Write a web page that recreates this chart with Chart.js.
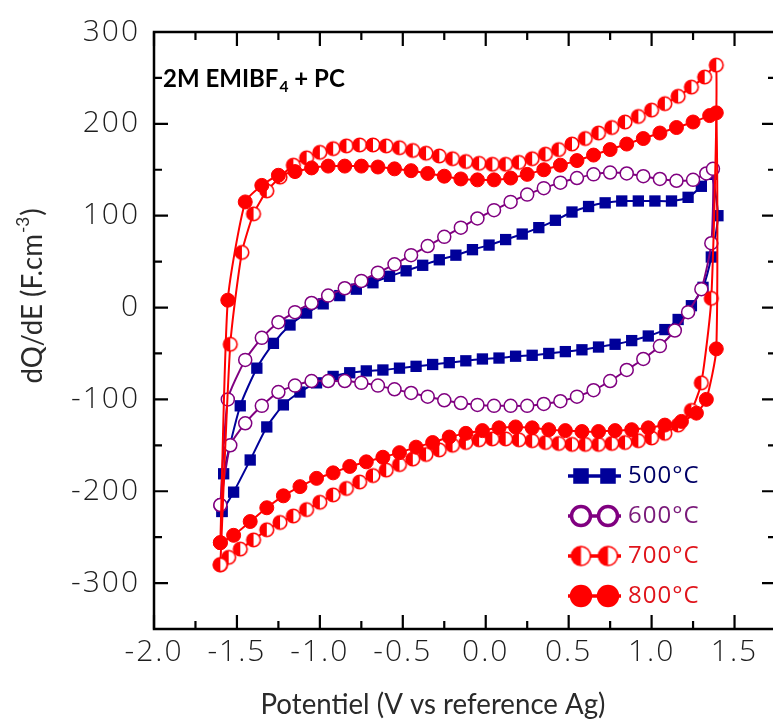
<!DOCTYPE html>
<html><head><meta charset="utf-8">
<script src="https://cdn.jsdelivr.net/npm/chart.js@4/dist/chart.umd.min.js"></script>
<style>html,body{margin:0;padding:0;overflow:hidden;background:#fff}canvas{display:block}</style>
</head><body>
<canvas id="c" width="790" height="726"></canvas>
<script>
// ---------- data ----------
const seriesLabels = ['500°C', '600°C', '700°C', '800°C'];
const xTickValues = [-2.0, -1.5, -1.0, -0.5, 0.0, 0.5, 1.0, 1.5];
const yTickValues = [-300, -200, -100, 0, 100, 200, 300];
const annotationParts = ['2M EMIBF', '4', ' + PC'];
const xTitle = 'Potentiel (V vs reference Ag)';
const yTitleParts = ['dQ/dE (F.cm', '-3', ')'];

const potential500 = [-1.59,-1.58,-1.48,-1.38,-1.28,-1.18,-1.08,-0.98,-0.88,-0.78,-0.68,-0.58,-0.48,-0.38,-0.28,-0.18,-0.08,0.02,0.12,0.22,0.32,0.42,0.52,0.62,0.72,0.82,0.92,1.02,1.12,1.22,1.30,1.36,
  1.40,1.36,1.31,1.24,1.16,1.08,0.98,0.88,0.78,0.68,0.58,0.48,0.38,0.28,0.18,0.08,-0.02,-0.12,-0.22,-0.32,-0.42,-0.52,-0.62,-0.72,-0.82,-0.92,-1.02,-1.12,-1.22,-1.32,-1.42,-1.52,-1.59];
const dqde500 = [-222,-181,-107,-66,-39,-19,-6,4,13,20,27,34,40,46,52,57,63,68,74,80,87,95,104,110,114,116,116,116,116,120,132,145,
  100,55,22,2,-13,-24,-31,-36,-40,-43,-46,-48,-50,-52,-53,-55,-56,-58,-60,-62,-64,-66,-68,-69,-71,-75,-82,-92,-106,-130,-166,-201,-222];

const potential600 = [-1.60,-1.555,-1.45,-1.35,-1.25,-1.15,-1.05,-0.95,-0.85,-0.75,-0.65,-0.55,-0.45,-0.35,-0.25,-0.15,-0.05,0.05,0.15,0.25,0.35,0.45,0.55,0.65,0.75,0.85,0.95,1.05,1.15,1.25,1.33,1.37,
  1.36,1.30,1.22,1.14,1.05,0.95,0.85,0.75,0.65,0.55,0.45,0.35,0.25,0.15,0.05,-0.05,-0.15,-0.25,-0.35,-0.45,-0.55,-0.65,-0.75,-0.85,-0.95,-1.05,-1.15,-1.25,-1.35,-1.45,-1.54,-1.60];
const dqde600 = [-215,-100,-57,-33,-16,-5,5,13,21,29,38,47,57,67,77,87,97,106,115,123,130,136,141,145,147,146,143,140,138,139,146,151,
  70,20,-5,-25,-42,-56,-68,-80,-90,-97,-102,-105,-107,-107,-107,-106,-104,-101,-97,-93,-89,-85,-82,-80,-80,-80,-85,-92,-107,-126,-150,-215];

const potential700 = [-1.60,-1.54,-1.47,-1.40,-1.32,-1.24,-1.16,-1.08,-1.00,-0.92,-0.84,-0.76,-0.68,-0.60,-0.52,-0.44,-0.36,-0.28,-0.20,-0.12,-0.04,0.04,0.12,0.20,0.28,0.36,0.44,0.52,0.60,0.68,0.76,0.84,0.92,1.00,1.08,1.16,1.24,1.32,1.39,
  1.36,1.30,1.24,1.16,1.08,1.00,0.92,0.84,0.76,0.68,0.60,0.52,0.44,0.36,0.28,0.20,0.12,0.04,-0.04,-0.12,-0.20,-0.28,-0.36,-0.44,-0.52,-0.60,-0.68,-0.76,-0.84,-0.92,-1.00,-1.08,-1.16,-1.24,-1.32,-1.40,-1.48,-1.55,-1.60];
const dqde700 = [-280,-40,60,102,127,142,155,163,169,173,176,177,177,176,174,171,168,165,162,159,157,156,156,158,162,167,172,178,184,190,196,202,208,215,222,230,240,251,264,
  10,-82,-112,-128,-137,-142,-145,-147,-148,-149,-149,-149,-148,-147,-145,-144,-143,-143,-144,-147,-150,-155,-160,-165,-171,-177,-183,-190,-197,-204,-212,-220,-227,-234,-242,-253,-263,-272,-280];

const potential800 = [-1.60,-1.555,-1.45,-1.35,-1.25,-1.15,-1.05,-0.95,-0.85,-0.75,-0.65,-0.55,-0.45,-0.35,-0.25,-0.15,-0.05,0.05,0.15,0.25,0.35,0.45,0.55,0.65,0.75,0.85,0.95,1.05,1.15,1.25,1.35,1.39,
  1.39,1.33,1.27,1.18,1.08,0.98,0.88,0.78,0.68,0.58,0.48,0.38,0.28,0.18,0.08,-0.02,-0.12,-0.22,-0.32,-0.42,-0.52,-0.62,-0.72,-0.82,-0.92,-1.02,-1.12,-1.22,-1.32,-1.42,-1.52,-1.60];
const dqde800 = [-256,8,115,133,144,148,152,154,154,154,153,151,149,146,143,140,139,139,141,145,150,155,160,166,172,178,184,190,196,202,209,212,
  -45,-100,-115,-124,-128,-131,-133,-134,-135,-135,-134,-133,-131,-130,-131,-134,-137,-141,-147,-152,-158,-163,-168,-173,-180,-186,-195,-205,-218,-233,-248,-256];

// ---------- styling ----------
const NAVY = '#000099', PURPLE = '#800080', RED = '#ff0000';
const TXT = { navy: '#000066', purple: '#7a1a7a', red: '#e0141b' };
const TICK_FONT = 'Open Sans';
const TITLE_FONT = 'Lato';

function halfCircle(r) {
  const s = Math.ceil(r * 2 + 4);
  const c = document.createElement('canvas');
  c.width = s; c.height = s;
  const g = c.getContext('2d');
  const cx = s / 2, cy = s / 2;
  g.beginPath(); g.arc(cx, cy, r, 0, 2 * Math.PI); g.fillStyle = '#fff'; g.fill();
  g.beginPath(); g.arc(cx, cy, r, Math.PI / 2, Math.PI * 1.5); g.closePath(); g.fillStyle = RED; g.fill();
  g.beginPath(); g.arc(cx, cy, r, 0, 2 * Math.PI); g.lineWidth = 1.6; g.strokeStyle = RED; g.stroke();
  return c;
}
const half7 = halfCircle(6.8);
const half10 = halfCircle(9.5);

const pts = (xs, ys) => xs.map((x, i) => ({ x, y: ys[i] }));

const datasets = [
  { label: seriesLabels[0], data: pts(potential500, dqde500), showLine: true, tension: 0.2,
    borderColor: NAVY, borderWidth: 2, pointStyle: 'rect', pointRadius: 8, pointBorderWidth: 0,
    pointBackgroundColor: NAVY, order: 4, txt: TXT.navy },
  { label: seriesLabels[1], data: pts(potential600, dqde600), showLine: true, tension: 0.2,
    borderColor: PURPLE, borderWidth: 2, pointStyle: 'circle', pointRadius: 6.5, pointBorderWidth: 1.5,
    pointBackgroundColor: '#fff', pointBorderColor: PURPLE, order: 3, txt: TXT.purple },
  { label: seriesLabels[2], data: pts(potential700, dqde700), showLine: true, tension: 0.2,
    borderColor: RED, borderWidth: 2, pointStyle: half7, pointRadius: 7,
    order: 2, txt: TXT.red, legendImg: half10 },
  { label: seriesLabels[3], data: pts(potential800, dqde800), showLine: true, tension: 0.2,
    borderColor: RED, borderWidth: 2, pointStyle: 'circle', pointRadius: 7, pointBorderWidth: 1,
    pointBackgroundColor: RED, pointBorderColor: RED, order: 1, txt: TXT.red }
];

// widen tick-label glyph spacing while the scales are painted
const spacingPlugin = {
  id: 'spacing',
  beforeDraw(chart) { if ('letterSpacing' in chart.ctx) chart.ctx.letterSpacing = '2px'; },
  beforeDatasetsDraw(chart) { if ('letterSpacing' in chart.ctx) chart.ctx.letterSpacing = '0px'; }
};

// frame + inward ticks (all four sides, major and minor)
const framePlugin = {
  id: 'frame',
  beforeDatasetsDraw(chart) {
    const { ctx, chartArea: a, scales: { x, y } } = chart;
    ctx.save();
    ctx.strokeStyle = '#000';
    ctx.lineWidth = 2.2;
    ctx.beginPath();
    const seg = (x1, y1, x2, y2) => { ctx.moveTo(x1, y1); ctx.lineTo(x2, y2); };
    for (let k = 0; ; k++) {
      const v = x.min + k * 0.25;
      if (v > x.max + 1e-9) break;
      const px = x.getPixelForValue(v);
      const major = Math.abs(v * 2 - Math.round(v * 2)) < 1e-6;
      const len = major ? 14 : 8;
      seg(px, a.bottom, px, a.bottom - len);
      seg(px, a.top, px, a.top + len);
    }
    for (let k = 0; ; k++) {
      const v = y.min + k * 50;
      if (v > y.max + 1e-9) break;
      const py = y.getPixelForValue(v);
      const major = v % 100 === 0;
      const len = major ? 14 : 8;
      seg(a.left, py, a.left + len, py);
      seg(a.right, py, a.right - len, py);
    }
    ctx.stroke();
    ctx.lineWidth = 2.5;
    ctx.strokeRect(a.left, a.top, a.right - a.left, a.bottom - a.top);
    ctx.restore();
  }
};

const TITLE_SIZE = 28;

const textPlugin = {
  id: 'texts',
  afterDraw(chart) {
    const ctx = chart.ctx;
    ctx.save();
    if ('letterSpacing' in ctx) ctx.letterSpacing = '0px';
    ctx.textBaseline = 'alphabetic';
    ctx.textAlign = 'left';

    // annotation "2M EMIBF4 + PC"
    ctx.fillStyle = '#000';
    const sA = 24;
    let xa = 163; const ba = 87;
    ctx.font = `bold ${sA}px "${TITLE_FONT}"`;
    ctx.fillText(annotationParts[0], xa, ba); xa += ctx.measureText(annotationParts[0]).width;
    ctx.font = `bold ${sA * 0.65}px "${TITLE_FONT}"`;
    ctx.fillText(annotationParts[1], xa + 1, ba + 5); xa += ctx.measureText(annotationParts[1]).width + 1;
    ctx.font = `bold ${sA}px "${TITLE_FONT}"`;
    ctx.fillText(annotationParts[2], xa, ba);

    // x-axis title (compressed horizontally to the reference width)
    ctx.fillStyle = '#2a2a2a';
    ctx.font = `normal ${TITLE_SIZE}px "${TITLE_FONT}"`;
    const wx = ctx.measureText(xTitle).width;
    const squeeze = 345 / wx;
    ctx.save();
    ctx.translate(433, 714);
    ctx.scale(squeeze, 1);
    ctx.textAlign = 'center';
    ctx.fillText(xTitle, 0, 0);
    ctx.restore();

    // y-axis title (rotated, with superscript)
    ctx.textAlign = 'left';
    const sy = TITLE_SIZE;
    ctx.font = `normal ${sy}px "${TITLE_FONT}"`;
    const w0 = ctx.measureText(yTitleParts[0]).width;
    ctx.font = `normal ${sy * 0.62}px "${TITLE_FONT}"`;
    const w1 = ctx.measureText(yTitleParts[1]).width;
    ctx.font = `normal ${sy}px "${TITLE_FONT}"`;
    const w2 = ctx.measureText(yTitleParts[2]).width;
    const total = w0 + w1 + w2 + 2;
    ctx.translate(42, 296);
    ctx.rotate(-Math.PI / 2);
    ctx.scale(squeeze, 1);
    let xt = -total / 2;
    ctx.fillText(yTitleParts[0], xt, 0); xt += w0 + 1;
    ctx.font = `normal ${sy * 0.62}px "${TITLE_FONT}"`;
    ctx.fillText(yTitleParts[1], xt, -sy * 0.48); xt += w1 + 1;
    ctx.font = `normal ${sy}px "${TITLE_FONT}"`;
    ctx.fillText(yTitleParts[2], xt, 0);
    ctx.restore();

    // legend
    ctx.save();
    if ('letterSpacing' in ctx) ctx.letterSpacing = '1px';
    const rows = [476, 516, 556, 596];
    const lx0 = 568, lx1 = 621;
    chart.data.datasets.forEach((ds, i) => {
      const yy = rows[i];
      ctx.strokeStyle = ds.borderColor;
      ctx.lineWidth = 3.5;
      ctx.beginPath(); ctx.moveTo(lx0, yy); ctx.lineTo(lx1, yy); ctx.stroke();
      [lx0 + 13, lx1 - 13].forEach(px => {
        if (ds.legendImg) {
          ctx.drawImage(ds.legendImg, px - ds.legendImg.width / 2, yy - ds.legendImg.height / 2);
        } else {
          ctx.fillStyle = ds.pointBackgroundColor;
          ctx.strokeStyle = ds.pointBorderColor || ds.borderColor;
          Chart.helpers.drawPoint(ctx, {
            pointStyle: ds.pointStyle, rotation: 0,
            radius: ds.pointStyle === 'rect' ? 11 : 9.5,
            borderWidth: ds.pointStyle === 'rect' ? 0 : 2
          }, px, yy);
        }
      });
      ctx.fillStyle = ds.txt;
      ctx.font = `normal 24px "${TICK_FONT}"`;
      ctx.textBaseline = 'middle';
      ctx.textAlign = 'left';
      ctx.fillText(ds.label, lx1 + 7, yy);
    });
    ctx.restore();
  }
};

new Chart(document.getElementById('c'), {
  type: 'scatter',
  data: { datasets },
  options: {
    responsive: false,
    animation: false,
    devicePixelRatio: 1,
    layout: { padding: { left: 0, right: 14, top: 29, bottom: 0 } },
    plugins: { legend: { display: false }, tooltip: { enabled: false } },
    scales: {
      x: {
        type: 'linear', min: -2.0, max: 1.75,
        grid: { display: false, drawTicks: false },
        border: { display: false },
        afterBuildTicks: s => { s.ticks = xTickValues.map(v => ({ value: v })); },
        afterFit: s => { s.height = 97; },
        ticks: { padding: 5, autoSkip: false, maxRotation: 0, color: '#1e1e1e',
          font: { family: TICK_FONT, size: 30, weight: '300' }, callback: v => Number(v).toFixed(1) }
      },
      y: {
        type: 'linear', min: -350, max: 300,
        grid: { display: false, drawTicks: false },
        border: { display: false },
        afterBuildTicks: s => { s.ticks = yTickValues.map(v => ({ value: v })); },
        afterFit: s => { s.width = 154; },
        ticks: { padding: 14, color: '#1e1e1e',
          font: { family: TICK_FONT, size: 30, weight: '300' }, callback: v => String(v) }
      }
    }
  },
  plugins: [spacingPlugin, framePlugin, textPlugin]
});
</script>
</body></html>
